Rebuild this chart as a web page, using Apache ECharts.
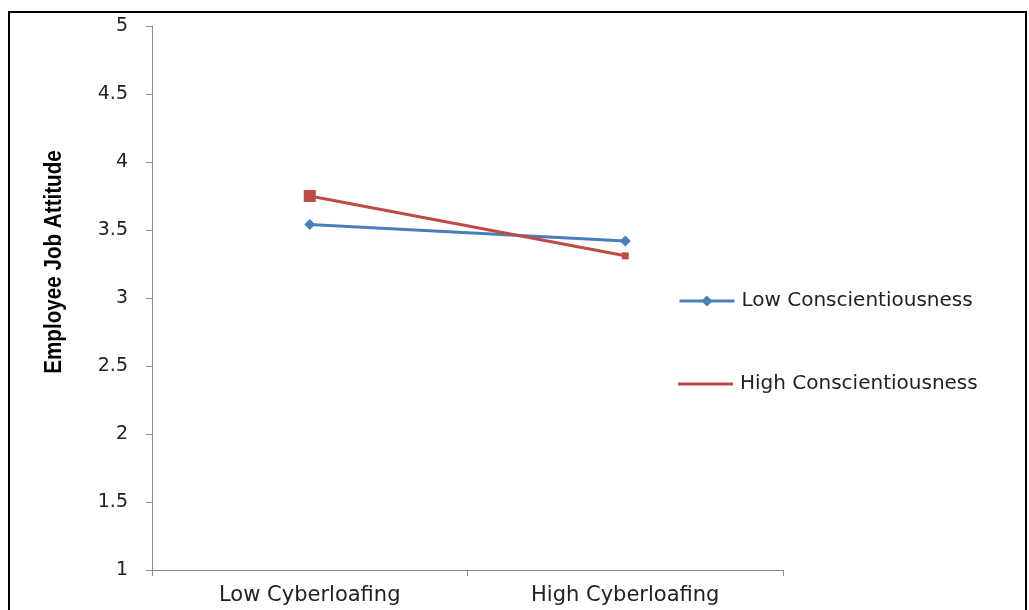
<!DOCTYPE html>
<html><head><meta charset="utf-8">
<script src="https://cdn.jsdelivr.net/npm/echarts@6/dist/echarts.min.js"></script>
<style>html,body{margin:0;padding:0;background:#fff}#c{width:1029px;height:610px}</style>
</head><body><div id="c"></div>
<script>
const categories = ['Low Cyberloafing', 'High Cyberloafing'];
const lowConscientiousness = [3.54, 3.42];
const highConscientiousness = [3.75, 3.31];
const yTicks = [1, 1.5, 2, 2.5, 3, 3.5, 4, 4.5, 5];
const yTitle = 'Employee Job Attitude';

const chart = echarts.init(document.getElementById('c'));
const fontFam = '"DejaVu Sans", "Open Sans", sans-serif';
chart.setOption({
  animation: false,
  backgroundColor: '#fff',
  graphic: [{
    type: 'rect', shape: {x: 9, y: 12, width: 1017, height: 620},
    style: {fill: 'none', stroke: '#000', lineWidth: 2}, silent: true
  }, {
    type: 'text', x: 54, y: 262, rotation: Math.PI / 2, scaleX: 0.86,
    style: {text: yTitle, fill: '#000', align: 'center', verticalAlign: 'middle',
      font: 'bold 24px "Liberation Sans", sans-serif'},
    silent: true
  }],
  grid: {left: 152, right: 246, top: 26, bottom: 40},
  legend: [{
    orient: 'vertical', left: 678, top: 291, padding: 0,
    itemWidth: 55, itemHeight: 14, lineStyle: {width: 3},
    textStyle: {fontFamily: fontFam, fontSize: 20, color: '#222', padding: [0,0,0,2]},
    data: [{name: 'Low Conscientiousness'}]
  }, {
    orient: 'vertical', left: 678, top: 374, padding: 0,
    itemWidth: 55, itemHeight: 14,
    textStyle: {fontFamily: fontFam, fontSize: 20, color: '#222', padding: [0,0,0,2]},
    data: [{name: 'High Conscientiousness', icon: 'path://M0,5.5 L55,5.5 L55,8.5 L0,8.5 Z'}]
  }],
  xAxis: {
    type: 'category', data: categories, boundaryGap: true,
    axisLine: {lineStyle: {color: '#8c8c8c', width: 1}},
    axisTick: {show: true, alignWithLabel: false, length: 6, lineStyle: {color: '#8c8c8c'}},
    axisLabel: {fontFamily: fontFam, fontSize: 21, color: '#222', margin: 15}
  },
  yAxis: {
    type: 'value', min: 1, max: 5, interval: 0.5,
    axisLine: {show: true, lineStyle: {color: '#8c8c8c', width: 1}},
    axisTick: {show: true, length: 6, lineStyle: {color: '#8c8c8c'}},
    splitLine: {show: false},
    axisLabel: {fontFamily: fontFam, fontSize: 19, color: '#222', margin: 24,
      formatter: v => yTicks.includes(v) ? String(v) : ''}
  },
  series: [
    {
      name: 'Low Conscientiousness', type: 'line', data: lowConscientiousness,
      symbol: 'diamond', symbolSize: 11,
      lineStyle: {color: '#4A7EBB', width: 3}, itemStyle: {color: '#4A7EBB'}
    },
    {
      name: 'High Conscientiousness', type: 'line',
      data: [
        {value: highConscientiousness[0], symbolSize: 12},
        {value: highConscientiousness[1], symbolSize: 7}
      ],
      symbol: 'rect',
      lineStyle: {color: '#BE4B48', width: 3}, itemStyle: {color: '#BE4B48'}
    }
  ]
});
</script></body></html>
